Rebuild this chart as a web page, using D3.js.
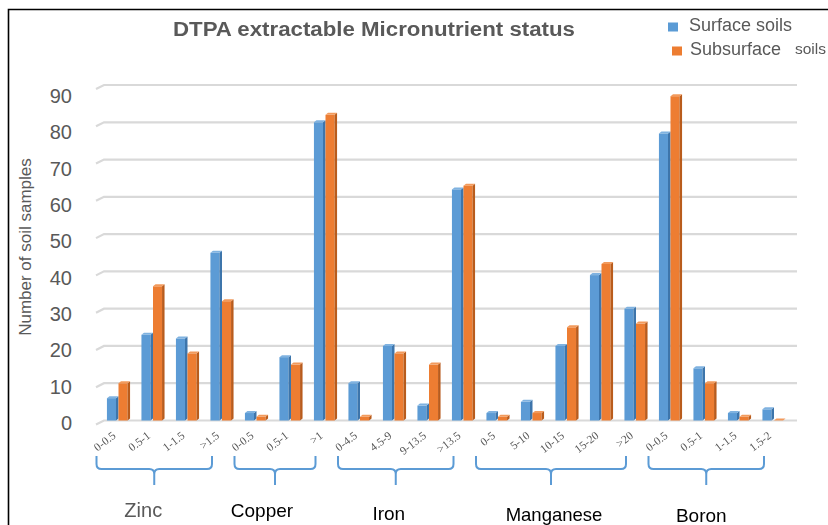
<!DOCTYPE html>
<html>
<head>
<meta charset="utf-8">
<script src="https://cdn.jsdelivr.net/npm/d3@7"></script>
<style>
  html, body { margin: 0; padding: 0; background: #fff; }
  svg { display: block; }
</style>
</head>
<body>
<script>
// Class labels along the x axis, in drawing order
const categories = ["0-0.5", "0.5-1", "1-1.5", ">1.5",
                    "0-0.5", "0.5-1", ">1",
                    "0-4.5", "4.5-9", "9-13.5", ">13.5",
                    "0-5", "5-10", "10-15", "15-20", ">20",
                    "0-0.5", "0.5-1", "1-1.5", "1.5-2"];
// Micronutrient groups and how many classes each one spans
const nutrients = ["Zinc", "Copper", "Iron", "Manganese", "Boron"];
const nutrientSizes = [4, 3, 4, 5, 4];
// Number of soil samples per class
const surfaceSoils    = [6, 23, 22, 45, 2, 17, 80, 10, 20, 4, 62, 2, 5, 20, 39, 30, 77, 14, 2, 3];
const subsurfaceSoils = [10, 36, 18, 32, 1, 15, 82, 1, 18, 15, 63, 1, 2, 25, 42, 26, 87, 10, 1, 0];
const yTickValues = [0, 10, 20, 30, 40, 50, 60, 70, 80, 90];
const seriesNames = ["Surface soils", "Subsurface"];

const W = 828, H = 525;
const grey = "#595959";
const palette = {
  front: ["#5b9bd5", "#ed7d31"],
  side:  ["#3d75ab", "#b95c1e"],
  top:   ["#7fb2e0", "#f29a5c"]
};

const svg = d3.select("body").append("svg")
  .attr("width", W).attr("height", H);

const defs = svg.append("defs");
defs.append("filter").attr("id", "soft")
  .attr("x", "-5%").attr("y", "-5%").attr("width", "110%").attr("height", "110%")
  .append("feGaussianBlur").attr("stdDeviation", 0.55);

svg.append("rect").attr("width", W).attr("height", H).attr("fill", "#fff");

// outer frame (left and top edges)
svg.append("path")
  .attr("d", "M8.5,525 V9.5 H828")
  .attr("fill", "none").attr("stroke", "#000").attr("stroke-width", 1.6);

// scales
const y = d3.scaleLinear().domain([0, 90]).range([420.5, 85]);
const yLabel = d3.scaleLinear().domain([0, 90]).range([423, 96]);
const x = d3.scaleBand().domain(d3.range(categories.length))
  .range([101.25, 791.25]).paddingInner(0.33).paddingOuter(0.165);
const xs = d3.scaleBand().domain([0, 1]).range([0, x.bandwidth()]);
const depth = 2.5;
const frontW = xs.bandwidth() - depth;

const plot = svg.append("g").attr("filter", "url(#soft)");

// gridlines with a short receding stub on the left (3-D floor edge)
const grid = plot.append("g");
grid.selectAll("path").data(yTickValues).join("path")
  .attr("d", d => `M96,${y(d) + 4} L104,${y(d)} H797`)
  .attr("fill", "none").attr("stroke", "#d9d9d9").attr("stroke-width", 2.2);

// y tick labels
const yAxis = svg.append("g")
  .attr("transform", "translate(74,0)")
  .call(d3.axisLeft(yLabel).tickValues(yTickValues).tickSize(0).tickPadding(2));
yAxis.select(".domain").remove();
yAxis.selectAll("text")
  .attr("fill", grey)
  .style("font-family", "'Liberation Sans', Arial, sans-serif")
  .style("font-size", "20px");

// y axis title
svg.append("text")
  .attr("transform", "translate(31,247) rotate(-90)")
  .attr("text-anchor", "middle")
  .attr("fill", grey)
  .style("font-family", "'Liberation Sans', Arial, sans-serif")
  .style("font-size", "17px")
  .text("Number of soil samples");

// bars, each with a darker side face and a lighter top face
const series = [surfaceSoils, subsurfaceSoils];
series.forEach((vals, s) => {
  const g = plot.append("g");
  const bars = g.selectAll("g").data(vals).join("g")
    .attr("transform", (d, i) => `translate(${x(i) + xs(s)},0)`);
  bars.append("rect")
    .attr("x", 0).attr("y", d => y(d))
    .attr("width", frontW).attr("height", d => y(0) - y(d))
    .attr("fill", palette.front[s]);
  bars.append("path")
    .attr("d", d => `M${frontW},${y(d)} L${frontW + depth},${y(d) - depth * 0.8} L${frontW + depth},${y(0) - depth * 0.8} L${frontW},${y(0)} Z`)
    .attr("fill", palette.side[s]);
  bars.append("path")
    .attr("d", d => `M0,${y(d)} L${depth},${y(d) - depth * 0.8} L${frontW + depth},${y(d) - depth * 0.8} L${frontW},${y(d)} Z`)
    .attr("fill", palette.top[s]);
});

// rotated class labels
svg.append("g").selectAll("text").data(categories).join("text")
  .attr("transform", (d, i) => `translate(${x(i) + x.bandwidth() / 2 - 2},437) rotate(-38)`)
  .attr("text-anchor", "end")
  .attr("fill", grey)
  .style("font-family", "'Liberation Serif', 'Times New Roman', serif")
  .style("font-size", "11.5px")
  .text(d => d);

// curly brackets grouping the classes of each micronutrient
const starts = nutrientSizes.map((n, k) => d3.sum(nutrientSizes.slice(0, k)));
const brackets = nutrients.map((name, k) => {
  const i0 = starts[k], i1 = starts[k] + nutrientSizes[k] - 1;
  const left = x(i0) + x.bandwidth() / 2 - 22;
  const right = x(i1) + x.bandwidth() / 2 - 10;
  return { name, left, right, mid: (left + right) / 2 };
});
const bTop = 456, bLine = 469, bTip = 485, r = 5;
plot.append("g").selectAll("path").data(brackets).join("path")
  .attr("d", b =>
    `M${b.left},${bTop} V${bLine - r} Q${b.left},${bLine} ${b.left + r},${bLine} ` +
    `H${b.mid - r} Q${b.mid},${bLine} ${b.mid},${bLine + r} V${bTip} ` +
    `M${b.mid},${bLine + r} Q${b.mid},${bLine} ${b.mid + r},${bLine} ` +
    `H${b.right - r} Q${b.right},${bLine} ${b.right},${bLine - r} V${bTop}`)
  .attr("fill", "none").attr("stroke", "#5b9bd5").attr("stroke-width", 2);

// micronutrient names under the brackets
const nameNudge = [{ dx: -11, y: 517, c: grey, fs: 20 },
                   { dx: -13, y: 517, c: "#000", fs: 19 },
                   { dx: -7,  y: 520, c: "#000", fs: 19 },
                   { dx: 3,   y: 520.5, c: "#000", fs: 18.5 },
                   { dx: -5,  y: 521.5, c: "#000", fs: 19 }];
svg.append("g").selectAll("text").data(brackets).join("text")
  .attr("x", (b, k) => b.mid + nameNudge[k].dx)
  .attr("y", (b, k) => nameNudge[k].y)
  .attr("text-anchor", "middle")
  .attr("fill", (b, k) => nameNudge[k].c)
  .style("font-family", "'Liberation Sans', Arial, sans-serif")
  .style("font-size", (b, k) => nameNudge[k].fs + "px")
  .text(b => b.name);

// title
svg.append("text")
  .attr("x", 374).attr("y", 36)
  .attr("text-anchor", "middle")
  .attr("fill", grey)
  .attr("textLength", 402).attr("lengthAdjust", "spacingAndGlyphs")
  .style("font-family", "'Liberation Sans', Arial, sans-serif")
  .style("font-weight", "bold")
  .style("font-size", "20px")
  .text("DTPA extractable Micronutrient status");

// legend
const legend = svg.append("g");
const legendRows = [{ sx: 668, sy: 22.5, tx: 689, ty: 30.5 },
                    { sx: 672, sy: 46.5, tx: 690, ty: 55 }];
legend.selectAll("rect").data(seriesNames).join("rect")
  .attr("x", (d, i) => legendRows[i].sx).attr("y", (d, i) => legendRows[i].sy)
  .attr("width", 10).attr("height", 9)
  .attr("fill", (d, i) => palette.front[i]);
const lt = legend.selectAll("text").data(seriesNames).join("text")
  .attr("x", (d, i) => legendRows[i].tx).attr("y", (d, i) => legendRows[i].ty)
  .attr("fill", grey)
  .style("font-family", "'Liberation Sans', Arial, sans-serif")
  .style("font-size", "18px")
  .text(d => d);
lt.filter((d, i) => i === 1).append("tspan")
  .attr("x", 795).attr("dy", -1)
  .style("font-size", "15.5px")
  .text("soils");
</script>
</body>
</html>
